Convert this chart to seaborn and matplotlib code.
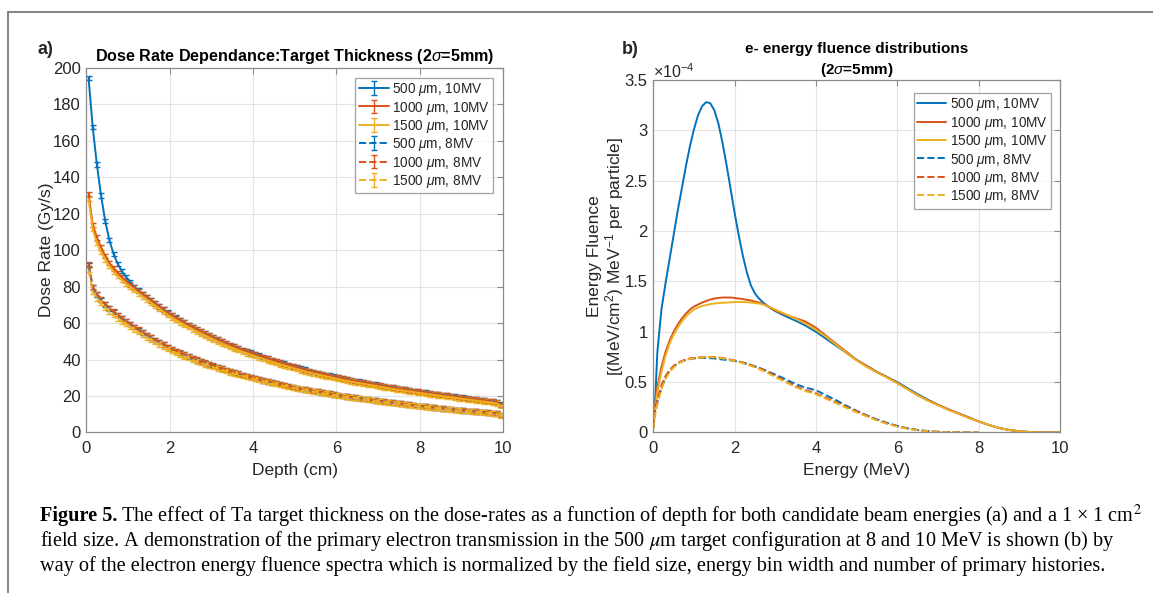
import numpy as np
import pandas as pd
import matplotlib
matplotlib.use("Agg")
import matplotlib.pyplot as plt
import seaborn as sns
from matplotlib.lines import Line2D

# ---- data ----
depth = np.arange(0.05, 10.0, 0.1)   # depth bin centres (cm)

dose_500_10 = [194.5, 167.5, 147.0, 130.0, 116.0, 105.5, 98.0, 92.5, 88.5, 85.3,
               82.4, 79.9, 77.9, 76.0, 74.3, 72.6, 70.9, 69.2, 67.5, 65.8,
               64.4, 63.0, 61.7, 60.4, 59.1, 57.9, 56.7, 55.5, 54.4, 53.3,
               52.2, 51.1, 50.1, 49.1, 48.1, 47.2, 46.3, 45.4, 44.6, 43.8,
               43.0, 42.2, 41.4, 40.6, 39.9, 39.2, 38.5, 37.8, 37.1, 36.4,
               35.8, 35.1, 34.5, 33.9, 33.3, 32.7, 32.2, 31.7, 31.2, 30.7,
               30.2, 29.7, 29.2, 28.7, 28.3, 27.9, 27.5, 27.1, 26.7, 26.3,
               25.9, 25.5, 25.1, 24.7, 24.3, 23.9, 23.6, 23.2, 22.9, 22.5,
               22.2, 21.9, 21.6, 21.2, 20.9, 20.6, 20.3, 20.0, 19.7, 19.4,
               19.1, 18.8, 18.5, 18.2, 17.9, 17.6, 17.3, 17.0, 16.6, 15.4]
dose_1000_10 = [131.0, 114.0, 107.0, 101.5, 97.0, 93.0, 90.0, 87.5, 85.2, 83.2,
                81.3, 79.5, 77.7, 75.9, 74.2, 72.5, 70.8, 69.1, 67.4, 65.7,
                64.3, 62.9, 61.6, 60.3, 59.0, 57.8, 56.6, 55.4, 54.3, 53.2,
                52.1, 51.0, 50.0, 49.0, 48.0, 47.1, 46.2, 45.3, 44.5, 43.7,
                42.9, 42.1, 41.3, 40.5, 39.8, 39.1, 38.4, 37.7, 37.0, 36.3,
                35.7, 35.0, 34.4, 33.8, 33.2, 32.6, 32.1, 31.6, 31.1, 30.6,
                30.1, 29.6, 29.1, 28.6, 28.2, 27.8, 27.4, 27.0, 26.6, 26.2,
                25.8, 25.4, 25.0, 24.6, 24.2, 23.8, 23.5, 23.1, 22.8, 22.4,
                22.1, 21.8, 21.5, 21.1, 20.8, 20.5, 20.2, 19.9, 19.6, 19.3,
                19.0, 18.7, 18.4, 18.1, 17.8, 17.5, 17.2, 16.9, 16.5, 15.2]
dose_1500_10 = [128.0, 111.5, 104.0, 99.0, 95.0, 91.3, 88.3, 85.8, 83.6, 81.7,
                79.9, 78.1, 76.3, 74.6, 72.9, 71.2, 69.5, 67.9, 66.2, 64.5,
                63.1, 61.7, 60.4, 59.1, 57.8, 56.6, 55.4, 54.3, 53.2, 52.1,
                51.0, 49.9, 48.9, 47.9, 46.9, 46.0, 45.1, 44.2, 43.4, 42.6,
                41.8, 41.0, 40.3, 39.5, 38.8, 38.1, 37.4, 36.7, 36.1, 35.4,
                34.8, 34.1, 33.5, 32.9, 32.3, 31.8, 31.3, 30.8, 30.3, 29.8,
                29.3, 28.8, 28.3, 27.9, 27.5, 27.1, 26.7, 26.3, 25.9, 25.5,
                25.1, 24.7, 24.3, 23.9, 23.5, 23.2, 22.8, 22.5, 22.2, 21.8,
                21.5, 21.2, 20.9, 20.5, 20.2, 19.9, 19.6, 19.3, 19.0, 18.7,
                18.4, 18.1, 17.8, 17.5, 17.2, 16.9, 16.6, 16.3, 15.9, 14.6]
dose_500_8 = [92.0, 79.6, 75.8, 72.8, 70.3, 68.1, 66.1, 64.3, 62.6, 61.1,
              59.5, 57.9, 56.4, 54.9, 53.5, 52.1, 50.8, 49.5, 48.2, 46.9,
              45.8, 44.7, 43.7, 42.7, 41.7, 40.8, 39.9, 39.0, 38.2, 37.4,
              36.6, 35.8, 35.1, 34.4, 33.7, 33.0, 32.3, 31.6, 31.0, 30.4,
              29.8, 29.2, 28.6, 28.0, 27.5, 27.0, 26.5, 26.0, 25.5, 25.0,
              24.5, 24.0, 23.6, 23.2, 22.8, 22.4, 22.0, 21.6, 21.3, 20.9,
              20.5, 20.1, 19.8, 19.4, 19.1, 18.8, 18.5, 18.2, 17.9, 17.6,
              17.3, 17.0, 16.7, 16.4, 16.1, 15.8, 15.5, 15.3, 15.0, 14.7,
              14.5, 14.2, 14.0, 13.7, 13.5, 13.2, 13.0, 12.8, 12.5, 12.3,
              12.1, 11.9, 11.7, 11.5, 11.3, 11.1, 10.9, 10.7, 10.4, 9.6]
dose_1000_8 = [92.5, 80.0, 76.0, 73.0, 70.5, 68.3, 66.3, 64.5, 62.8, 61.2,
               59.6, 58.0, 56.5, 55.0, 53.6, 52.2, 50.9, 49.6, 48.3, 47.0,
               45.9, 44.8, 43.8, 42.8, 41.8, 40.9, 40.0, 39.1, 38.3, 37.5,
               36.7, 35.9, 35.1, 34.4, 33.7, 33.0, 32.3, 31.6, 31.0, 30.4,
               29.8, 29.2, 28.6, 28.0, 27.5, 27.0, 26.5, 26.0, 25.5, 25.0,
               24.5, 24.0, 23.6, 23.2, 22.8, 22.4, 22.0, 21.6, 21.3, 20.9,
               20.5, 20.1, 19.8, 19.4, 19.1, 18.8, 18.5, 18.2, 17.9, 17.6,
               17.3, 17.0, 16.7, 16.4, 16.1, 15.8, 15.5, 15.3, 15.0, 14.7,
               14.5, 14.2, 14.0, 13.7, 13.5, 13.2, 13.0, 12.8, 12.5, 12.3,
               12.1, 11.9, 11.7, 11.5, 11.3, 11.1, 10.9, 10.7, 10.4, 9.6]
dose_1500_8 = [89.0, 77.0, 73.5, 71.0, 68.5, 66.3, 64.3, 62.6, 61.0, 59.5,
               58.0, 56.5, 55.0, 53.6, 52.2, 50.9, 49.6, 48.3, 47.1, 45.9,
               44.8, 43.7, 42.7, 41.7, 40.8, 39.9, 39.0, 38.2, 37.4, 36.6,
               35.8, 35.1, 34.4, 33.7, 33.0, 32.3, 31.7, 31.1, 30.5, 29.9,
               29.3, 28.7, 28.2, 27.6, 27.1, 26.6, 26.1, 25.6, 25.1, 24.6,
               24.2, 23.7, 23.3, 22.9, 22.5, 22.1, 21.7, 21.3, 21.0, 20.6,
               20.2, 19.9, 19.5, 19.2, 18.9, 18.6, 18.3, 18.0, 17.7, 17.4,
               17.1, 16.8, 16.5, 16.2, 15.9, 15.6, 15.3, 15.1, 14.8, 14.5,
               14.3, 14.0, 13.8, 13.5, 13.3, 13.0, 12.8, 12.6, 12.3, 12.1,
               11.9, 11.7, 11.5, 11.3, 11.1, 10.9, 10.7, 10.5, 10.2, 9.3]
dose_err = 1.2

# energy grids (MeV)
e10 = np.r_[0.0, 0.05, np.arange(0.1, 3.01, 0.1), np.arange(3.25, 10.01, 0.25)]
e8 = np.r_[0.0, 0.05, np.arange(0.1, 3.01, 0.1), np.arange(3.25, 8.01, 0.25)]

# fluence, units of 1e-4 MeV/cm2/MeV per particle
flu_500_10 = [0.10, 0.35, 0.80, 1.22, 1.48, 1.72, 1.96, 2.20, 2.42, 2.64, 2.84, 3.01,
              3.15, 3.24, 3.28, 3.27, 3.20, 3.07, 2.88, 2.66, 2.42, 2.18,
              1.96, 1.76, 1.59, 1.46, 1.38, 1.33, 1.29, 1.26, 1.23, 1.205,
              1.155, 1.11, 1.06, 1.00, 0.93, 0.86, 0.79, 0.72, 0.66, 0.60,
              0.55, 0.50, 0.44, 0.38, 0.325, 0.275, 0.23, 0.19, 0.15, 0.11,
              0.075, 0.045, 0.025, 0.012, 0.005, 0.002, 0.0, 0.0]
flu_1000_10 = [0.10, 0.30, 0.45, 0.65, 0.80, 0.91, 1.00, 1.07, 1.13, 1.18, 1.22, 1.25,
               1.27, 1.29, 1.305, 1.32, 1.33, 1.335, 1.34, 1.34, 1.34, 1.335,
               1.33, 1.325, 1.318, 1.31, 1.30, 1.29, 1.275, 1.255, 1.235, 1.21,
               1.17, 1.135, 1.10, 1.04, 0.96, 0.88, 0.80, 0.72, 0.66, 0.60,
               0.55, 0.49, 0.43, 0.37, 0.32, 0.275, 0.23, 0.19, 0.15, 0.11,
               0.075, 0.045, 0.025, 0.012, 0.005, 0.002, 0.0, 0.0]
flu_1500_10 = [0.08, 0.25, 0.40, 0.60, 0.76, 0.88, 0.97, 1.04, 1.10, 1.15, 1.19, 1.22,
               1.24, 1.255, 1.265, 1.275, 1.28, 1.285, 1.288, 1.29, 1.293, 1.295,
               1.296, 1.296, 1.294, 1.29, 1.285, 1.28, 1.27, 1.255, 1.24, 1.22,
               1.175, 1.13, 1.08, 1.02, 0.95, 0.87, 0.79, 0.715, 0.65, 0.595,
               0.545, 0.49, 0.43, 0.37, 0.315, 0.27, 0.225, 0.185, 0.145, 0.11,
               0.075, 0.045, 0.025, 0.012, 0.005, 0.002, 0.0, 0.0]
flu_500_8 = [0.05, 0.25, 0.30, 0.44, 0.55, 0.61, 0.655, 0.685, 0.705, 0.72, 0.73, 0.735,
             0.74, 0.742, 0.74, 0.738, 0.735, 0.728, 0.725, 0.72, 0.715, 0.71,
             0.702, 0.693, 0.682, 0.67, 0.656, 0.642, 0.626, 0.61, 0.592, 0.575,
             0.53, 0.48, 0.445, 0.42, 0.37, 0.32, 0.265, 0.215, 0.17, 0.13,
             0.095, 0.065, 0.042, 0.025, 0.014, 0.007, 0.003, 0.001, 0.0, 0.0]
flu_1000_8 = [0.05, 0.22, 0.33, 0.47, 0.56, 0.62, 0.66, 0.69, 0.71, 0.725, 0.735, 0.74,
              0.745, 0.748, 0.75, 0.75, 0.748, 0.745, 0.74, 0.732, 0.724, 0.715,
              0.705, 0.695, 0.683, 0.67, 0.655, 0.64, 0.622, 0.603, 0.583, 0.562,
              0.51, 0.46, 0.42, 0.39, 0.345, 0.30, 0.255, 0.21, 0.165, 0.125,
              0.09, 0.062, 0.04, 0.024, 0.013, 0.006, 0.002, 0.0, 0.0, 0.0]
flu_1500_8 = [0.03, 0.18, 0.28, 0.43, 0.53, 0.60, 0.645, 0.68, 0.705, 0.72, 0.73, 0.738,
              0.743, 0.746, 0.748, 0.748, 0.745, 0.742, 0.736, 0.728, 0.72, 0.71,
              0.70, 0.688, 0.675, 0.662, 0.647, 0.63, 0.612, 0.593, 0.572, 0.55,
              0.50, 0.45, 0.41, 0.38, 0.335, 0.29, 0.245, 0.20, 0.16, 0.12,
              0.085, 0.058, 0.037, 0.022, 0.012, 0.005, 0.002, 0.0, 0.0, 0.0]

labels = [r"500 $\mu$m, 10MV", r"1000 $\mu$m, 10MV", r"1500 $\mu$m, 10MV",
          r"500 $\mu$m, 8MV", r"1000 $\mu$m, 8MV", r"1500 $\mu$m, 8MV"]
colors = ["#0072BD", "#D95319", "#EDB120"] * 2
styles = ["-"] * 3 + ["--"] * 3

# ---- style ----
sns.set_theme(style="whitegrid")
plt.rcParams["font.family"] = ["Liberation Sans", "DejaVu Sans"]
plt.rcParams["mathtext.fontset"] = "custom"
plt.rcParams["mathtext.rm"] = "Liberation Sans"
plt.rcParams["mathtext.it"] = "Liberation Sans:italic"
plt.rcParams["mathtext.bf"] = "Liberation Sans:bold"

fig = plt.figure(figsize=(11.53, 5.93), dpi=100)
ax1 = fig.add_axes([0.075, 0.2707, 0.3612, 0.6146])
ax2 = fig.add_axes([0.5666, 0.2707, 0.3527, 0.5944])

tick_col = "#262626"
for ax in (ax1, ax2):
    ax.set_facecolor("white")
    ax.grid(True, color="#e3e3e3", linewidth=0.8)
    for s in ax.spines.values():
        s.set_color("#8a8a8a")
        s.set_linewidth(0.9)
    ax.tick_params(direction="in", top=True, right=True, length=4, width=0.8,
                   color="#8a8a8a", labelsize=12, labelcolor=tick_col, pad=4)
    ax.tick_params(axis="x", pad=6)

# left: dose rate vs depth with error bars
dose_series = [dose_500_10, dose_1000_10, dose_1500_10, dose_500_8, dose_1000_8, dose_1500_8]
for vals, lab, c, ls in zip(dose_series, labels, colors, styles):
    eb = ax1.errorbar(depth, vals, yerr=dose_err, color=c, linestyle=ls, lw=1.4,
                      elinewidth=1.0, capsize=2, capthick=1.0, label=lab)
    if ls == "--":
        eb[-1][0].set_linestyle("-")
ax1.set_xlim(0, 10)
ax1.set_ylim(0, 200)
ax1.set_xticks(range(0, 11, 2))
ax1.set_yticks(range(0, 201, 20))
ax1.set_xlabel("Depth (cm)", fontsize=12.5, color=tick_col, labelpad=5)
ax1.set_ylabel("Dose Rate (Gy/s)", fontsize=12.5, color=tick_col, labelpad=-1)
ax1.set_title(r"Dose Rate Dependance:Target Thickness (2$\sigma$=5mm)",
              fontsize=11.6, fontweight="bold", color="black", pad=5)
leg1 = ax1.legend(loc="upper right", bbox_to_anchor=(0.976, 0.973), borderaxespad=0,
                  fontsize=9.8, frameon=True, fancybox=False, edgecolor="#8a8a8a",
                  handlelength=2.2, handletextpad=0.2, labelspacing=0.1,
                  borderpad=0.25, handleheight=0.9)
leg1.get_frame().set_linewidth(0.9)

# right: energy fluence spectra
flu_series = [(e10, flu_500_10), (e10, flu_1000_10), (e10, flu_1500_10),
              (e8, flu_500_8), (e8, flu_1000_8), (e8, flu_1500_8)]
for (ex, vals), lab, c, ls in zip(flu_series, labels, colors, styles):
    sns.lineplot(x=ex, y=vals, ax=ax2, color=c, linestyle=ls, lw=1.4, label=lab,
                 sort=False, estimator=None)
ax2.set_xlim(0, 10)
ax2.set_ylim(0, 3.5)
ax2.set_xticks(range(0, 11, 2))
ax2.set_yticks(np.arange(0, 3.51, 0.5))
ax2.set_yticklabels(["0", "0.5", "1", "1.5", "2", "2.5", "3", "3.5"])
ax2.set_xlabel("Energy (MeV)", fontsize=12.5, color=tick_col, labelpad=5)
ax2.set_ylabel("Energy Fluence\n[(MeV/cm$^{2}$) MeV$^{-1}$ per particle]",
               fontsize=12.5, color=tick_col, labelpad=-1, linespacing=1.05)
ax2.set_title("e- energy fluence distributions\n(2$\\sigma$=5mm)",
              fontsize=11, fontweight="bold", color="black", pad=4, linespacing=1.45)
ax2.text(0.0, 0.997, r"$\times$10$^{-4}$", transform=ax2.transAxes, fontsize=11.5,
         color=tick_col, ha="left", va="bottom")
leg2 = ax2.legend(loc="upper right", bbox_to_anchor=(0.978, 0.963), borderaxespad=0,
                  fontsize=9.8, frameon=True, fancybox=False, edgecolor="#8a8a8a",
                  handlelength=2.1, handletextpad=0.3, labelspacing=0.1,
                  borderpad=0.25, handleheight=0.9)
leg2.get_frame().set_linewidth(0.9)

# panel letters
fig.text(38 / 1153, 1 - 49 / 593, "a)", fontsize=13, fontweight="bold", va="center")
fig.text(622 / 1153, 1 - 49 / 593, "b)", fontsize=13, fontweight="bold", va="center")

# frame lines of the figure box
fig.add_artist(Line2D([8 / 1153, 8 / 1153], [0, 1 - 12 / 593], color="#7a7a7a", lw=1.3,
                      transform=fig.transFigure))
fig.add_artist(Line2D([8 / 1153, 1], [1 - 12 / 593, 1 - 12 / 593], color="#7a7a7a", lw=1.3,
                      transform=fig.transFigure))

# caption
cap_font = dict(family="Liberation Serif", fontsize=14.6, color="black", math_fontfamily="stix")
cap_x = 40 / 1153
line_y = [1 - 516 / 593, 1 - 541 / 593, 1 - 566 / 593]
bold = fig.text(cap_x, line_y[0], "Figure 5.", fontweight="bold", va="center", **cap_font)
fig.canvas.draw()
bb = bold.get_window_extent(fig.canvas.get_renderer())
x_after = (bb.x1 + 4) / fig.bbox.width
fig.text(x_after, line_y[0],
         "The effect of Ta target thickness on the dose-rates as a function of depth for both "
         "candidate beam energies (a) and a 1 \u00d7 1 cm$^{2}$", va="center", **cap_font)
fig.text(cap_x, line_y[1],
         "field size. A demonstration of the primary electron transmission in the 500 $\\mu$m "
         "target configuration at 8 and 10 MeV is shown (b) by", va="center", **cap_font)
fig.text(cap_x, line_y[2],
         "way of the electron energy fluence spectra which is normalized by the field size, "
         "energy bin width and number of primary histories.", va="center", **cap_font)

fig.savefig("out.png", dpi=100, facecolor="white")
